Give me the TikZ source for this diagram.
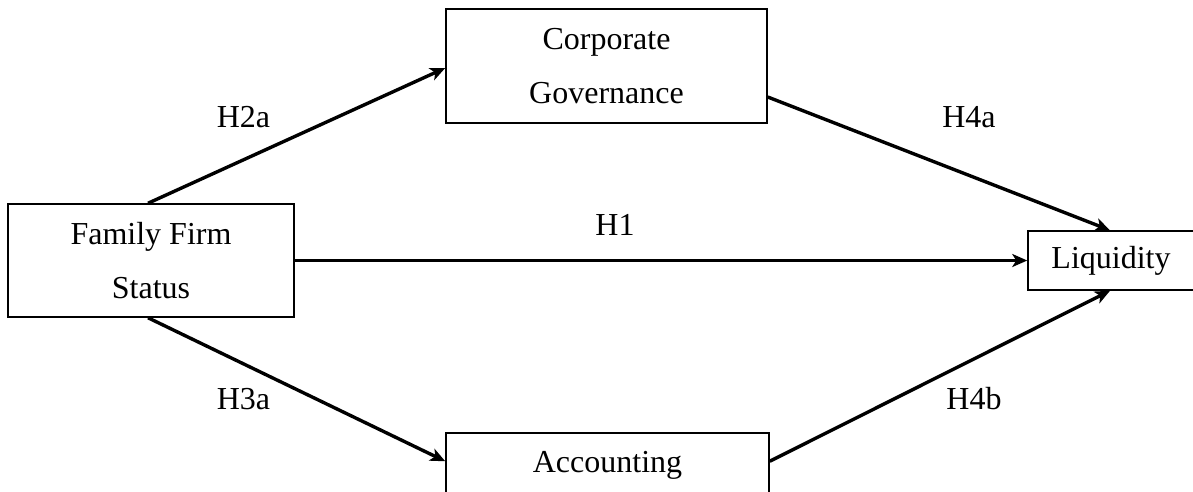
\documentclass[tikz,border=0pt]{standalone}
\usepackage{fontspec}
\setmainfont{Liberation Serif}
\usetikzlibrary{arrows.meta,calc}
\begin{document}
\begin{tikzpicture}[x=1pt,y=-1pt,
  box/.style={draw,line width=1.5pt,inner sep=0pt,align=center,
    font=\fontsize{32}{54}\selectfont},
  conn/.style={line width=3.4pt,-{Stealth[length=15pt,width=13pt,inset=4pt]}},
  lab/.style={font=\fontsize{32}{36}\selectfont,inner sep=0pt,anchor=base}]
\useasboundingbox (0,0) rectangle (1193,491);
\clip (0,0) rectangle (1193,491);
\node[box,minimum width=286pt,minimum height=113pt] (fam) at (151,260.5) {Family Firm\\Status};
\node[box,minimum width=321pt,minimum height=114pt] (cg) at (606.5,66) {Corporate\\Governance};
\node[box,minimum width=323pt,minimum height=114pt,text depth=74pt,text height=38pt] (acc) at (607.5,490) {Accounting};
\node[box,minimum width=166pt,minimum height=59pt] (liq) at (1111,260.5) {Liquidity};
\draw[conn] ($(fam.north)+(-3,0)$) -- ($(cg.west)+(0,2)$);
\draw[conn] ($(fam.south)+(-3,0)$) -- ($(acc.north west)+(0,29)$);
\draw[conn] (fam.east) -- (liq.west);
\draw[conn] ($(cg.east)+(0,31)$) -- ($(liq.north)+(-1,0)$);
\draw[conn] ($(acc.north east)+(0,29)$) -- ($(liq.south)+(-1,0)$);
\node[lab] (l2a) at (243.5,127) {H2a};
\node[lab] (l1) at (615,235) {H1};
\node[lab] (l4a) at (969,127) {H4a};
\node[lab] (l3a) at (243.5,409) {H3a};
\node[lab] (l4b) at (974,409) {H4b};
\end{tikzpicture}
\end{document}
